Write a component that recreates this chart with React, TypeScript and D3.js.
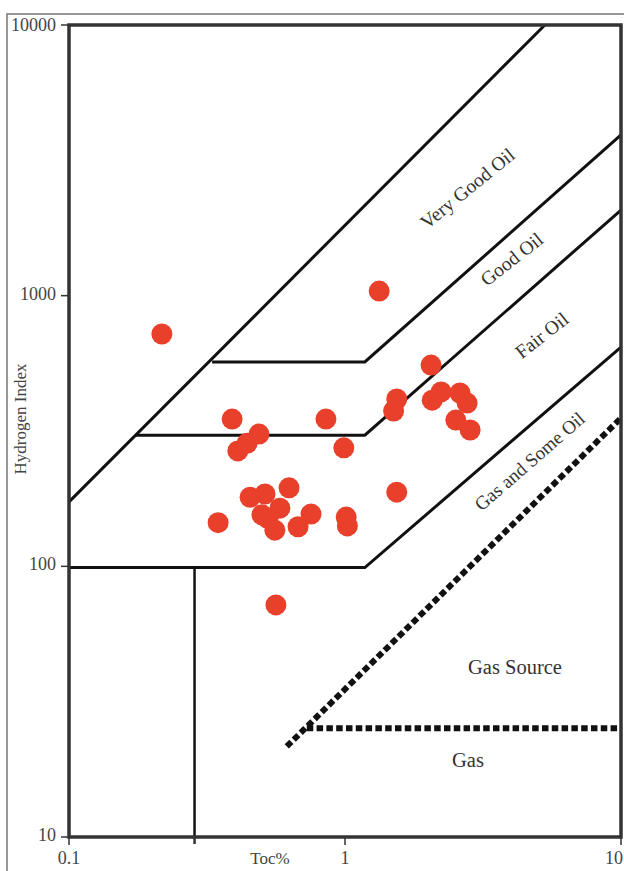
import React from 'react';
import * as d3 from 'd3';

// sample measurements: TOC (%) and Hydrogen Index
const toc = [0.217, 1.33, 0.39, 0.488, 0.409, 0.442, 0.853, 0.99, 0.347, 1.01, 1.02,
  0.453, 0.513, 0.627, 0.5, 0.557, 0.676, 0.753, 0.581, 0.526, 0.562,
  2.05, 1.54, 1.5, 2.07, 2.23, 2.61, 2.77, 2.52, 2.84, 1.54];
const hi = [722, 1040, 350, 308, 267, 285, 350, 274, 145, 152, 141,
  180, 185, 195, 155, 136, 140, 156, 164, 150, 72,
  554, 415, 375, 411, 441, 437, 401, 347, 319, 188];

// zone boundaries [toc, hi]
const veryGoodLine = [[0.1, 173], [5.3, 10000]];
const goodLine = [[0.33, 569], [1.18, 569], [10, 3926]];
const fairLine = [[0.175, 305], [1.18, 305], [10, 2072]];
const gasOilLine = [[0.1, 99], [1.18, 99], [10, 646]];
const lowerLeftLine = [[0.285, 99], [0.285, 10]];
const gasSourceLine = [[0.615, 21.6], [10, 353]];
const gasLine = [[0.727, 25.2], [10, 25.2]];

const xTicks = [0.1, 1, 10];
const xTickLabels = ['0.1', '1', '10'];
const yTicks = [10, 100, 1000, 10000];
const yTickLabels = ['10', '100', '1000', '10000'];

const zoneNames = ['Very Good Oil', 'Good Oil', 'Fair Oil', 'Gas and Some Oil', 'Gas Source', 'Gas'];
const zoneAt = [[2.81, 2455], [4.06, 1343], [5.22, 703], [4.72, 241], [4.13, 41.8], [2.79, 18.9]];
const zoneAngle = [-39, -38, -38, -41, 0, 0];
const zoneSize = [19.5, 19.5, 19.5, 19, 20.5, 20.5];

const W = 624;
const H = 871;
const font = '"Liberation Serif", "DejaVu Serif", serif';

export default function App() {
  const x = d3.scaleLog().domain([0.1, 10]).range([69, 621]);
  const y = d3.scaleLog().domain([10, 10000]).range([837, 25]);
  const line = d3.line<number[]>().x(d => x(d[0])).y(d => y(d[1]));

  const solid = [veryGoodLine, goodLine, fairLine, gasOilLine, lowerLeftLine];

  return (
    <svg width={W} height={H} style={{ position: 'absolute', left: 0, top: 0, background: '#fff' }}>
      {/* outer frame */}
      <path d={`M7,${H} L7,14 L${W},14`} fill="none" stroke="#777" strokeWidth={1.5} />

      {solid.map((l, i) => (
        <path key={i} d={line(l) || ''} fill="none" stroke="#111" strokeWidth={i === 4 ? 2.5 : 3} />
      ))}
      {[gasSourceLine, gasLine].map((l, i) => (
        <path key={'g' + i} d={line(l) || ''} fill="none" stroke="#111" strokeWidth={6} strokeDasharray="6.5 3.3" />
      ))}

      {toc.map((t, i) => (
        <circle key={i} cx={x(t)} cy={y(hi[i])} r={10.5} fill="#e8402a" />
      ))}

      {/* plot frame */}
      <rect x={69} y={25} width={552} height={812} fill="none" stroke="#333" strokeWidth={3.5} />

      {yTicks.map((v, i) => (
        <g key={v}>
          <line x1={61} x2={69} y1={y(v)} y2={y(v)} stroke="#333" strokeWidth={1.5} />
          <text x={56} y={y(v) + (i === 3 ? 6 : 4)} textAnchor="end" fontFamily={font} fontSize={18} fill="#444">
            {yTickLabels[i]}
          </text>
        </g>
      ))}
      {xTicks.map((v, i) => (
        <g key={v}>
          <line x1={x(v)} x2={x(v)} y1={837} y2={845} stroke="#333" strokeWidth={1.5} />
          <text x={i === 2 ? 623 : x(v)} y={864} textAnchor={i === 2 ? 'end' : 'middle'} fontFamily={font} fontSize={18} fill="#444">
            {xTickLabels[i]}
          </text>
        </g>
      ))}
      <line x1={x(0.285)} x2={x(0.285)} y1={837} y2={844} stroke="#333" strokeWidth={2.5} />

      <text x={270} y={864} textAnchor="middle" fontFamily={font} fontSize={17} fill="#444">Toc%</text>
      <text transform="translate(26,419) rotate(-90)" textAnchor="middle" fontFamily={font} fontSize={17} fill="#444">
        Hydrogen Index
      </text>

      {zoneNames.map((n, i) => (
        <text
          key={n}
          transform={`translate(${x(zoneAt[i][0])},${y(zoneAt[i][1])}) rotate(${zoneAngle[i]})`}
          textAnchor="middle"
          dominantBaseline="middle"
          fontFamily={font}
          fontSize={zoneSize[i]}
          fill="#333"
        >
          {n}
        </text>
      ))}
    </svg>
  );
}
